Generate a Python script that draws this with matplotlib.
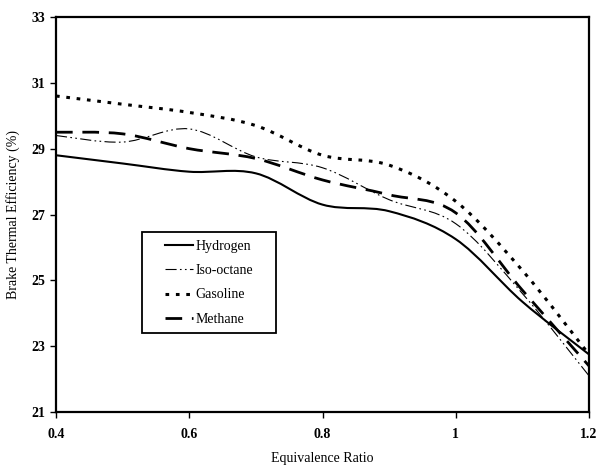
import numpy as np
import matplotlib
matplotlib.use("Agg")
import matplotlib.pyplot as plt
from matplotlib.path import Path
from matplotlib.patches import PathPatch, Rectangle
from matplotlib.lines import Line2D
from matplotlib.legend_handler import HandlerLine2D

phi = [0.4, 0.5, 0.6, 0.7, 0.8, 0.9, 1.0, 1.1, 1.2]
hydrogen = [28.8, 28.55, 28.3, 28.25, 27.3, 27.1, 26.25, 24.35, 22.75]
isooctane = [29.4, 29.2, 29.6, 28.75, 28.42, 27.45, 26.72, 24.6, 22.1]
gasoline = [30.6, 30.35, 30.1, 29.7, 28.8, 28.5, 27.4, 25.3, 22.75]
methane = [29.5, 29.45, 29.0, 28.7, 28.05, 27.6, 27.05, 24.7, 22.4]
labels = ["Hydrogen", "Iso-octane", "Gasoline", "Methane"]
xticks = [0.4, 0.6, 0.8, 1.0, 1.2]
xticklabels = ["0.4", "0.6", "0.8", "1", "1.2"]
yticks = [21, 23, 25, 27, 29, 31, 33]

plt.rcParams['font.family'] = ['Liberation Serif', 'DejaVu Serif']

fig = plt.figure(figsize=(6, 4.68), dpi=100)
ax = fig.add_axes([56/600, 1-412/468, 533/600, 395/468])


def smooth_path(x, y):
    x = np.asarray(x, float)
    y = np.asarray(y, float)
    n = len(x)
    verts = [(x[0], y[0])]
    codes = [Path.MOVETO]
    for i in range(n - 1):
        xm, ym = (x[i-1], y[i-1]) if i > 0 else (x[i], y[i])
        xp, yp = (x[i+2], y[i+2]) if i + 2 < n else (x[i+1], y[i+1])
        c1 = (x[i] + (x[i+1] - xm) / 6, y[i] + (y[i+1] - ym) / 6)
        c2 = (x[i+1] - (xp - x[i]) / 6, y[i+1] - (yp - y[i]) / 6)
        verts += [c1, c2, (x[i+1], y[i+1])]
        codes += [Path.CURVE4] * 3
    return Path(verts, codes)


series = [hydrogen, isooctane, gasoline, methane]
styles = [
    dict(lw=1.5, ls='-'),
    dict(lw=0.8, ls=(0, (10, 3, 1.5, 3, 1.5, 3))),
    dict(lw=2.2, ls=(0, (1.2, 2.2))),
    dict(lw=2.0, ls=(0, (6, 3.5))),
]
handles = []
for ys, st, lab in zip(series, styles, labels):
    p = PathPatch(smooth_path(phi, ys), fill=False, edgecolor='black',
                  linewidth=st['lw'], linestyle=st['ls'], capstyle='butt')
    ax.add_patch(p)
    handles.append(Line2D([], [], color='black', lw=st['lw'], ls=st['ls']))

ax.set_xlim(0.4, 1.2)
ax.set_ylim(21, 33)
ax.set_xticks(xticks)
ax.set_xticklabels(xticklabels, fontsize=10, fontweight='bold')
ax.set_yticks(yticks)
ax.set_yticklabels([str(v) for v in yticks], fontsize=10, fontweight='bold')
ax.tick_params(direction='out', length=4, width=1, pad=7.5, axis='x')
ax.tick_params(direction='out', length=4, width=1, pad=4, axis='y')
for s in ax.spines.values():
    s.set_linewidth(1.6)

ax.set_xlabel("Equivalence Ratio", fontsize=10, labelpad=8)
ax.set_ylabel("Brake Thermal Efficiency (%)", fontsize=10, labelpad=8)

# legend box (frame drawn separately to get wider horizontal padding)
fx0, fy0, fx1, fy1 = 142, 232, 276, 333
ax.add_patch(Rectangle(((fx0-56)/533, (412-fy1)/395), (fx1-fx0)/533, (fy1-fy0)/395,
                       transform=ax.transAxes, fill=True, facecolor='white',
                       edgecolor='black', linewidth=1.3, zorder=4))
leg = ax.legend(handles, labels, loc='upper left',
                bbox_to_anchor=((fx0-56)/533, (412-fy0)/395),
                borderaxespad=0, fontsize=10, handlelength=3.15, handletextpad=0.15,
                labelspacing=0.82, frameon=False, borderpad=0.55,
                handler_map={Line2D: HandlerLine2D(xpad=1.1)})
leg.set_zorder(5)

fig.savefig("out.png", dpi=100)
